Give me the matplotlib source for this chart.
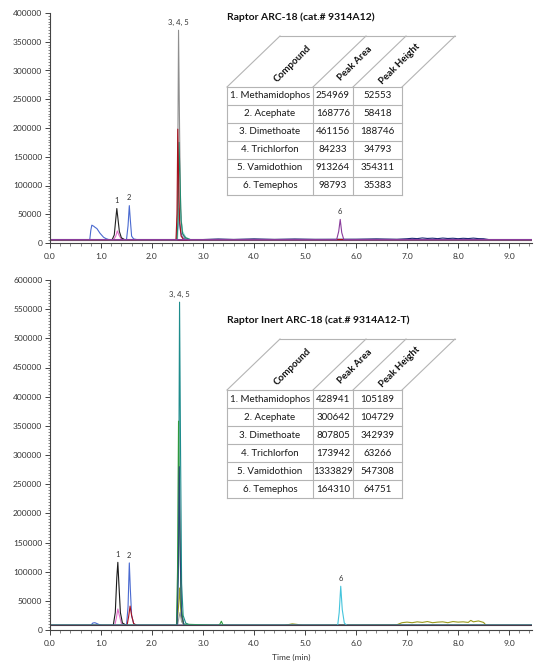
import matplotlib
matplotlib.use("Agg")
import matplotlib.pyplot as plt
from matplotlib.lines import Line2D
from matplotlib.ticker import MultipleLocator, FormatStrFormatter

plt.rcParams['font.family'] = ['Lato', 'DejaVu Sans']

W, H = 554, 664

# ---- table data ----
compounds = ["1. Methamidophos", "2. Acephate", "3. Dimethoate",
             "4. Trichlorfon", "5. Vamidothion", "6. Temephos"]
headers = ["Compound", "Peak Area", "Peak Height"]
top_area = ["254969", "168776", "461156", "84233", "913264", "98793"]
top_height = ["52553", "58418", "188746", "34793", "354311", "35383"]
bot_area = ["428941", "300642", "807805", "173942", "1333829", "164310"]
bot_height = ["105189", "104729", "342939", "63266", "547308", "64751"]

# ---- top chromatogram (Raptor ARC-18) ----
top_blue_t = [0.0, 0.78, 0.80, 0.82, 0.86, 0.88, 0.92, 0.95, 0.98, 1.01, 1.05, 1.10, 1.15,
              1.50, 1.53, 1.555, 1.575, 1.60, 1.64, 1.70, 2.48, 2.51, 2.53, 2.56, 2.60, 2.70, 9.45]
top_blue_y = [6000, 6000, 22000, 31000, 29000, 27500, 25000, 21000, 17000, 14000, 10000, 7500, 6000,
              6000, 30000, 65000, 40000, 12000, 7000, 6000, 6000, 30000, 41000, 20000, 9000, 6000, 6000]
top_black_t = [0.0, 1.22, 1.26, 1.29, 1.31, 1.33, 1.36, 1.40, 1.46, 9.45]
top_black_y = [6000, 6000, 14000, 42000, 60000, 44000, 20000, 9000, 6000, 6000]
top_pink_t = [0.0, 1.25, 1.29, 1.32, 1.35, 1.39, 1.45, 9.45]
top_pink_y = [6000, 6000, 12000, 21000, 14000, 8000, 6000, 6000]
top_gray_t = [0.0, 2.48, 2.50, 2.52, 2.54, 2.56, 2.59, 2.63, 2.70, 9.45]
top_gray_y = [6000, 6000, 60000, 370000, 200000, 60000, 20000, 10000, 6000, 6000]
top_red_t = [0.0, 2.47, 2.49, 2.505, 2.52, 2.54, 2.57, 2.62, 9.45]
top_red_y = [6000, 6000, 50000, 198000, 120000, 40000, 12000, 6000, 6000]
top_green_t = [0.0, 2.49, 2.51, 2.53, 2.55, 2.57, 2.60, 2.66, 2.75, 9.45]
top_green_y = [6000, 6000, 40000, 175000, 110000, 40000, 16000, 9000, 6000, 6000]
top_cyan_t = [0.0, 2.50, 2.53, 2.56, 2.60, 2.66, 2.75, 9.45]
top_cyan_y = [6000, 6000, 60000, 45000, 20000, 10000, 6000, 6000]
top_purple_t = [0.0, 5.62, 5.66, 5.69, 5.72, 5.76, 9.45]
top_purple_y = [6000, 6000, 20000, 41000, 18000, 6000, 6000]
top_navy_t = [0.0, 3.0, 3.3, 3.6, 4.0, 4.4, 4.8, 5.2, 6.0, 6.4, 6.8, 7.0, 7.1, 7.2, 7.3, 7.4,
              7.5, 7.6, 7.7, 7.8, 7.9, 8.0, 8.1, 8.2, 8.3, 8.4, 8.5, 8.6, 9.45]
top_navy_y = [6000, 6000, 7000, 6200, 7200, 6300, 7000, 6400, 6600, 7200, 6500, 7400, 8200, 7600,
              8800, 7900, 8400, 7600, 8600, 7800, 8300, 7500, 8200, 7700, 8500, 7600, 7400, 6000, 6000]
top_base_t = [0.0, 9.45]
top_base_y = [6000, 6000]

# ---- bottom chromatogram (Raptor Inert ARC-18) ----
bot_blue_t = [0.0, 0.80, 0.84, 0.88, 0.92, 0.97, 1.02, 1.50, 1.53, 1.555, 1.575, 1.60, 1.64, 1.70, 9.45]
bot_blue_y = [8000, 8000, 12000, 12500, 11000, 9000, 8000, 8000, 40000, 115000, 70000, 25000, 11000, 8000, 8000]
bot_black_t = [0.0, 1.24, 1.28, 1.31, 1.33, 1.35, 1.38, 1.42, 1.50, 9.45]
bot_black_y = [8000, 8000, 30000, 90000, 116000, 80000, 30000, 12000, 8000, 8000]
bot_pink_t = [0.0, 1.27, 1.30, 1.33, 1.36, 1.40, 1.46, 9.45]
bot_pink_y = [8000, 8000, 20000, 36000, 25000, 11000, 8000, 8000]
bot_red_t = [0.0, 1.51, 1.54, 1.57, 1.60, 1.64, 1.70, 9.45]
bot_red_y = [8000, 8000, 22000, 41000, 25000, 11000, 8000, 8000]
bot_teal_t = [0.0, 2.49, 2.52, 2.54, 2.56, 2.58, 2.61, 2.66, 2.75, 9.45]
bot_teal_y = [8000, 8000, 150000, 562000, 300000, 80000, 25000, 12000, 8000, 8000]
bot_green_t = [0.0, 2.48, 2.50, 2.52, 2.54, 2.57, 2.62, 3.30, 3.33, 3.36, 3.39, 3.45, 9.45]
bot_green_y = [8000, 8000, 100000, 358000, 200000, 40000, 10000, 8000, 10000, 15000, 9000, 8000, 8000]
bot_navy_t = [0.0, 2.49, 2.515, 2.535, 2.555, 2.58, 2.63, 9.45]
bot_navy_y = [8000, 8000, 90000, 280000, 120000, 25000, 8000, 8000]
bot_olive_t = [0.0, 2.49, 2.52, 2.54, 2.57, 2.62, 4.6, 4.75, 4.85, 4.95, 6.8, 6.9, 7.0, 7.1, 7.2,
               7.3, 7.4, 7.5, 7.6, 7.7, 7.8, 7.9, 8.0, 8.1, 8.2, 8.25, 8.3, 8.4, 8.5, 8.55, 9.45]
bot_olive_y = [8000, 8000, 40000, 72000, 25000, 8000, 8000, 10500, 9500, 8000, 9000, 12500, 13500, 12500,
               14000, 13000, 14500, 12500, 13500, 14000, 12500, 14500, 13500, 14000, 13000, 16500,
               14000, 15500, 13000, 8000, 8000]
bot_gray_t = [0.0, 2.50, 2.53, 2.55, 2.58, 2.64, 9.45]
bot_gray_y = [8000, 8000, 22000, 30000, 14000, 8000, 8000]
bot_cyan_t = [0.0, 5.64, 5.67, 5.70, 5.73, 5.77, 5.82, 9.45]
bot_cyan_y = [8000, 8000, 30000, 75000, 35000, 12000, 8000, 8000]
bot_base_t = [0.0, 9.45]
bot_base_y = [8000, 8000]

top_traces = [
    (top_navy_t, top_navy_y, "#1f2a78"),
    (top_base_t, top_base_y, "#7a2a5a"),
    (top_blue_t, top_blue_y, "#4a6ad0"),
    (top_pink_t, top_pink_y, "#e070c8"),
    (top_black_t, top_black_y, "#222222"),
    (top_gray_t, top_gray_y, "#8e8e8e"),
    (top_cyan_t, top_cyan_y, "#8fd8d8"),
    (top_green_t, top_green_y, "#238a6e"),
    (top_red_t, top_red_y, "#a8101c"),
    (top_purple_t, top_purple_y, "#8a3c9c"),
]
bot_traces = [
    (bot_olive_t, bot_olive_y, "#9a9a1c"),
    (bot_gray_t, bot_gray_y, "#999999"),
    (bot_pink_t, bot_pink_y, "#e070c8"),
    (bot_black_t, bot_black_y, "#1a1a1a"),
    (bot_blue_t, bot_blue_y, "#4a6ad0"),
    (bot_red_t, bot_red_y, "#a8101c"),
    (bot_teal_t, bot_teal_y, "#1e8c8c"),
    (bot_green_t, bot_green_y, "#2f9a3e"),
    (bot_navy_t, bot_navy_y, "#2c4a78"),
    (bot_cyan_t, bot_cyan_y, "#44c4dc"),
    (bot_base_t, bot_base_y, "#4a3a4a"),
]
top_labels = [("1", 1.31, 60000), ("2", 1.555, 65000), ("3, 4, 5", 2.52, 370000), ("6", 5.69, 41000)]
bot_labels = [("1", 1.33, 116000), ("2", 1.555, 115000), ("3, 4, 5", 2.54, 562000), ("6", 5.70, 75000)]


def px(x, y):
    return x / W, 1 - y / H


def style_axis(ax, ymax):
    ax.set_xlim(0, 9.45)
    ax.set_ylim(0, ymax)
    ax.spines['top'].set_visible(False)
    ax.spines['right'].set_visible(False)
    for s in ('left', 'bottom'):
        ax.spines[s].set_color('#444444')
        ax.spines[s].set_linewidth(0.8)
    ax.xaxis.set_major_locator(MultipleLocator(1.0))
    ax.xaxis.set_minor_locator(MultipleLocator(0.2))
    ax.xaxis.set_major_formatter(FormatStrFormatter('%.1f'))
    ax.yaxis.set_major_locator(MultipleLocator(50000))
    ax.yaxis.set_minor_locator(MultipleLocator(5000))
    ax.yaxis.set_major_formatter(FormatStrFormatter('%d'))
    ax.tick_params(which='major', direction='out', length=3.5, width=0.7,
                   colors='#444444', labelsize=6, labelcolor='#333333', pad=2)
    ax.tick_params(axis='x', which='major', pad=3.5)
    ax.tick_params(which='minor', direction='out', length=1.8, width=0.5, colors='#555555')


def draw_table(fig, y0, title, areas, heights):
    # y0: pixel y of the body top line
    xs = [227, 313, 353, 402]
    slant = 53
    hh = 51
    rh = 18
    lc = '#b4b4b4'
    lw = 0.8

    def ln(x1, y1, x2, y2):
        a, b = px(x1, y1)
        c, d = px(x2, y2)
        fig.add_artist(Line2D([a, c], [b, d], color=lc, lw=lw))

    fig.text(*px(227, y0 - 70), title, fontsize=7.5, fontweight='bold',
             ha='left', va='center', color='#111111')
    # header
    ln(xs[0] + slant, y0 - hh, xs[-1] + slant, y0 - hh)
    for x in xs:
        ln(x, y0, x + slant, y0 - hh)
    for i, name in enumerate(headers):
        cx = (xs[i] + xs[i + 1]) / 2 + slant / 2 - 4
        cy = y0 - hh / 2 + 2
        fig.text(*px(cx, cy), name, fontsize=7, fontweight='bold', rotation=45,
                 ha='center', va='center', rotation_mode='anchor', color='#111111')
    # body
    n = len(compounds)
    for r in range(n + 1):
        ln(xs[0], y0 + r * rh, xs[-1], y0 + r * rh)
    for x in xs:
        ln(x, y0, x, y0 + n * rh)
    for r in range(n):
        cy = y0 + r * rh + rh / 2
        for c, val in enumerate([compounds[r], areas[r], heights[r]]):
            cx = (xs[c] + xs[c + 1]) / 2
            fig.text(*px(cx, cy), val, fontsize=7, ha='center', va='center', color='#1a1a1a')


fig = plt.figure(figsize=(W / 100, H / 100), dpi=100)
fig.patch.set_facecolor('white')

ax1 = fig.add_axes([50 / W, 1 - 243 / H, (532 - 50) / W, (243 - 13) / H])
ax2 = fig.add_axes([50 / W, 1 - 630 / H, (532 - 50) / W, (630 - 280) / H])

for ax, traces, labels, ymax in [(ax1, top_traces, top_labels, 400000),
                                  (ax2, bot_traces, bot_labels, 600000)]:
    for t, y, col in traces:
        ax.plot(t, y, color=col, lw=0.8)
    for txt, x, y in labels:
        ax.annotate(txt, (x, y), xytext=(0, 3), textcoords='offset points',
                    ha='center', va='bottom', fontsize=5.5, color='#333333')
    style_axis(ax, ymax)

ax2.set_xlabel('Time (min)', fontsize=6, color='#333333', labelpad=5)

draw_table(fig, 87, 'Raptor ARC-18 (cat.# 9314A12)', top_area, top_height)
draw_table(fig, 390, 'Raptor Inert ARC-18 (cat.# 9314A12-T)', bot_area, bot_height)

fig.savefig('out.png', dpi=100, facecolor='white')
